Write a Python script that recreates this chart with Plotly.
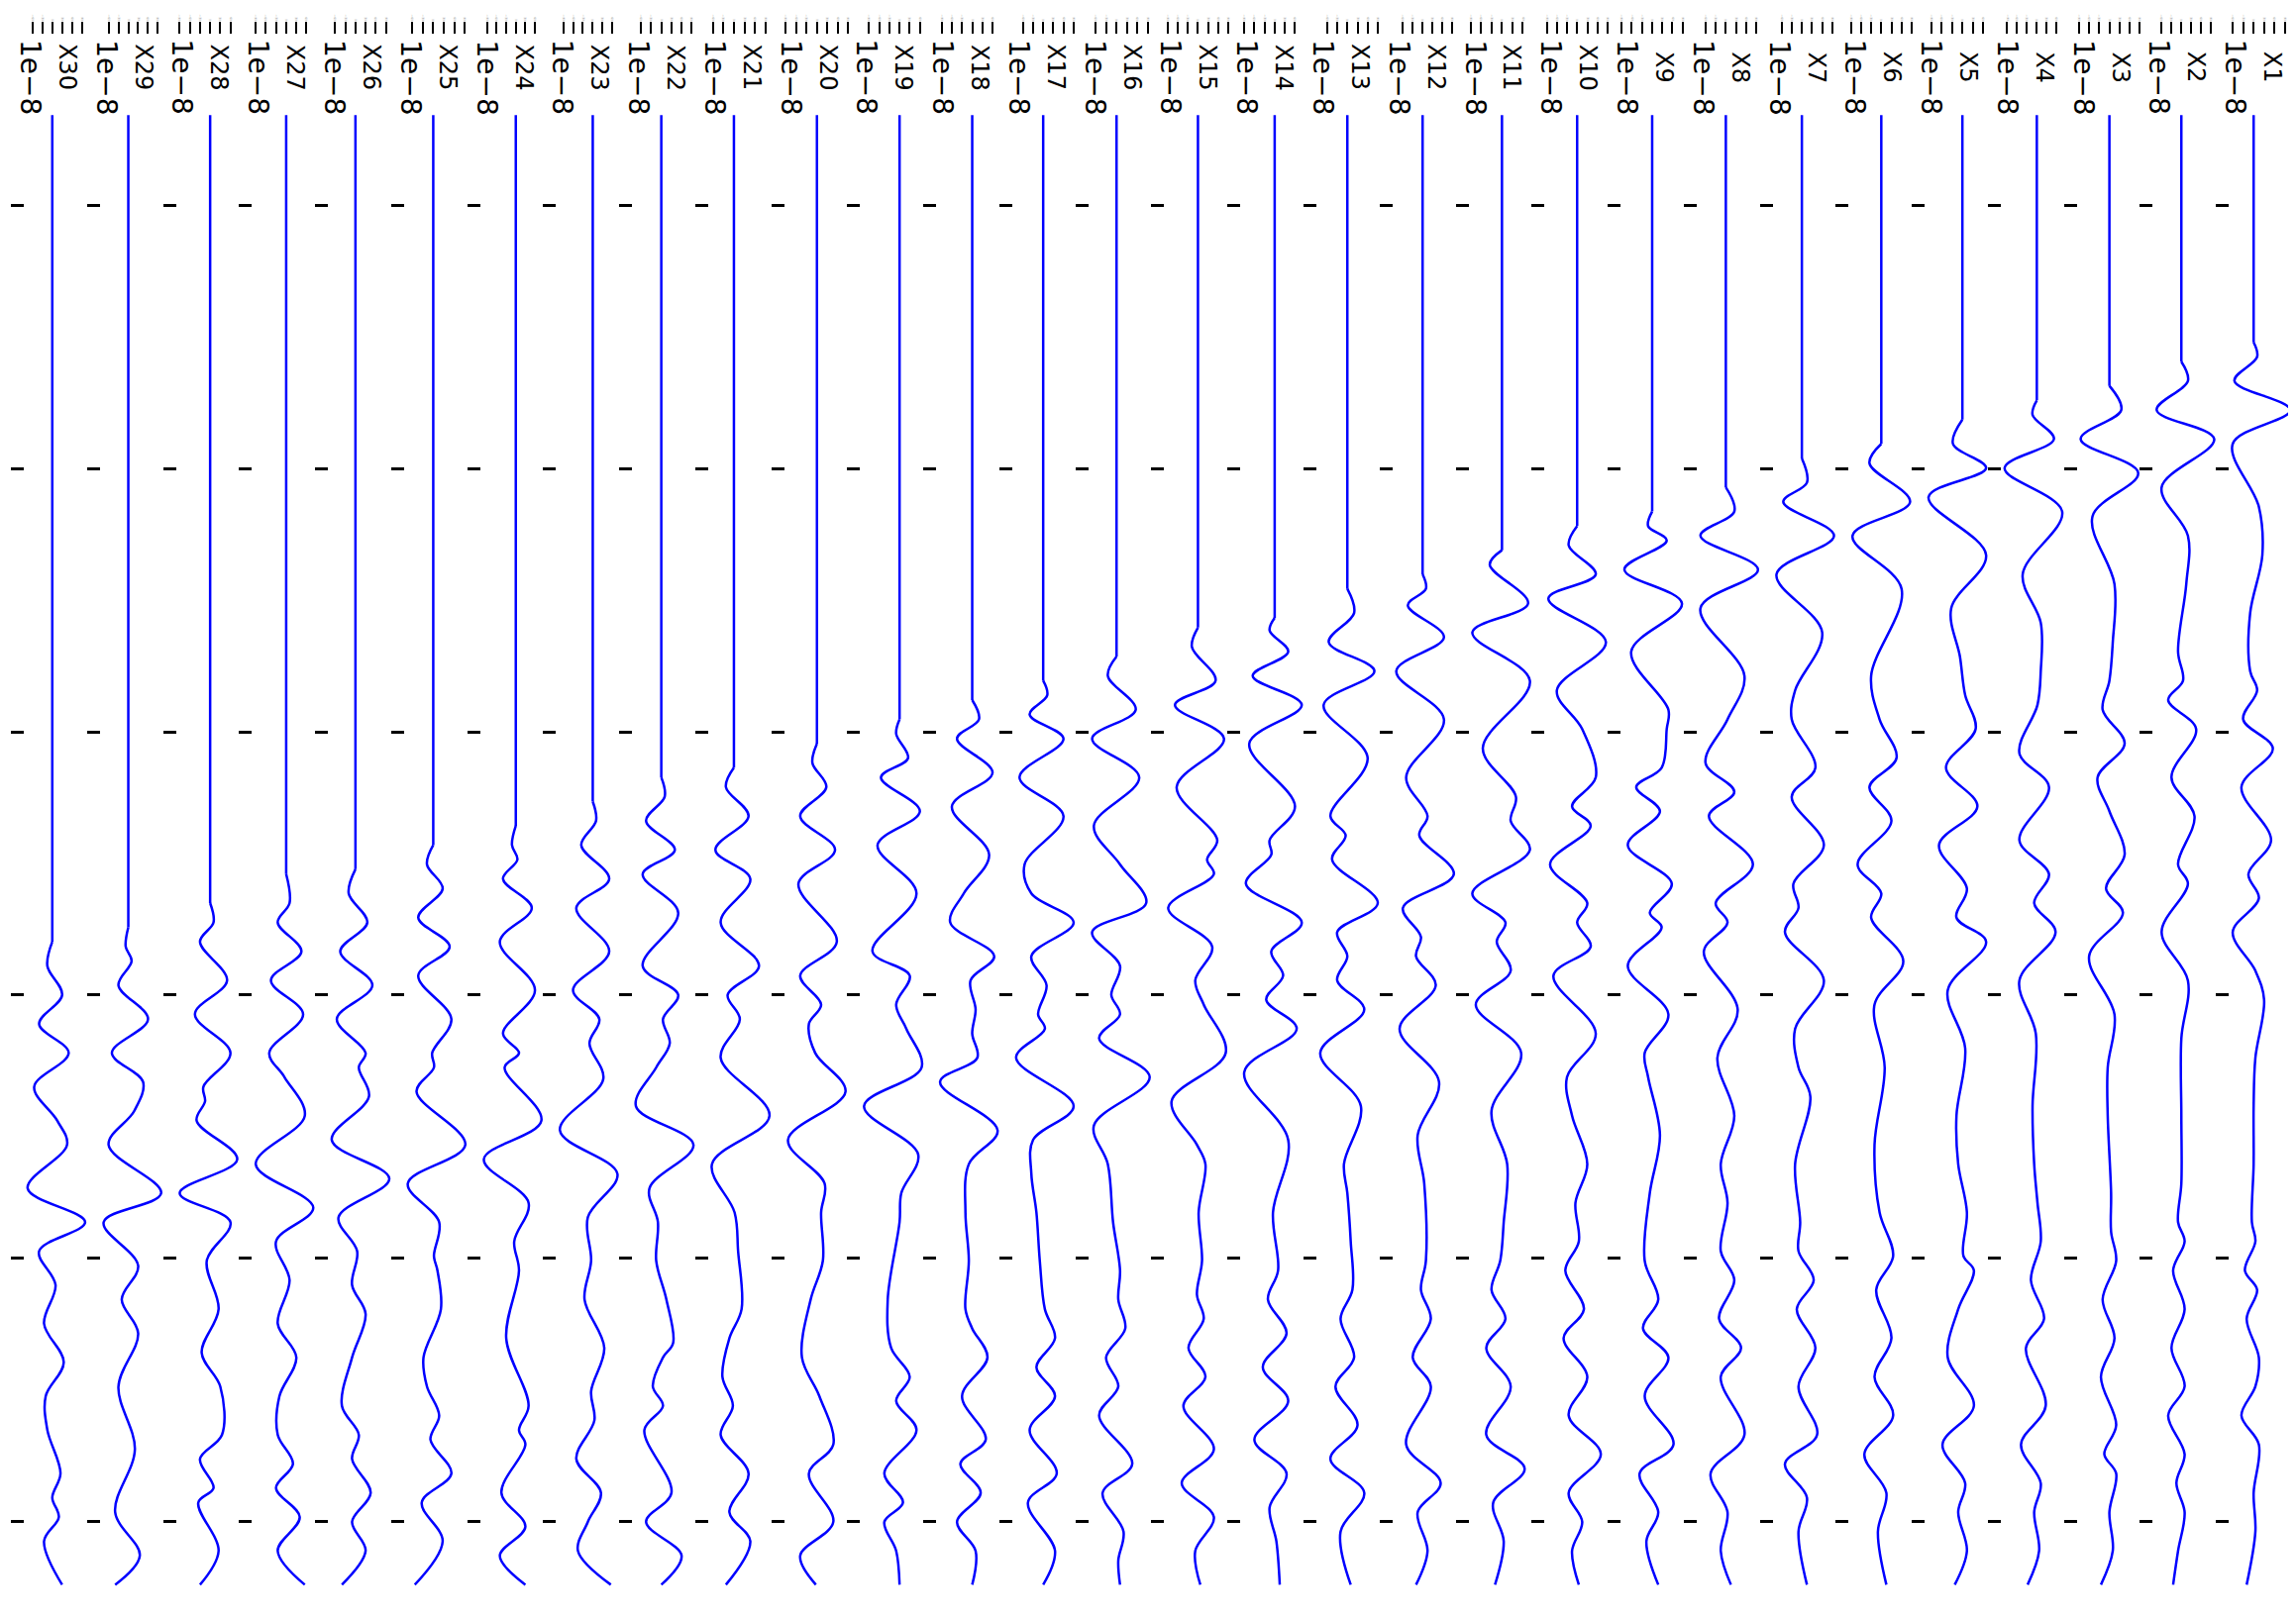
import plotly.graph_objects as go

# ---------------- data ----------------
# Stations, left to right as drawn
stations = ["X30", "X29", "X28", "X27", "X26", "X25", "X24", "X23", "X22", "X21",
            "X20", "X19", "X18", "X17", "X16", "X15", "X14", "X13", "X12", "X11",
            "X10", "X9", "X8", "X7", "X6", "X5", "X4", "X3", "X2", "X1"]

# recording parameters: time = t_start + sample / fs  (seconds)
t_start = 60.35
fs = 2.724
time_ticks = [100, 200, 300, 400, 500, 600]
time_range = [636.5, 35.3]
offset_label = "1e\u22128"

# waveform samples (sample index) and amplitudes (x1e-10); first two samples = quiet part
X30_n = [15, 870, 895, 925, 955, 985, 1020, 1055, 1080, 1125, 1160, 1190, 1225, 1265, 1305, 1340, 1375, 1420, 1445, 1465, 1490, 1535]
X30_a = [0, 0, -15, 30, -40, 50, -55, 15, 45, -75, 100, -40, 10, -25, 35, -20, -15, 25, 0, 20, -25, 30]

X29_n = [15, 855, 875, 890, 915, 950, 985, 1015, 1045, 1080, 1130, 1160, 1205, 1240, 1275, 1330, 1395, 1460, 1505, 1535]
X29_a = [0, 0, -8, 10, -30, 60, -50, 45, 18, -60, 100, -75, 30, -20, 30, -30, 20, -40, 35, -40]

X28_n = [15, 830, 850, 870, 910, 945, 985, 1020, 1035, 1055, 1095, 1130, 1160, 1200, 1250, 1295, 1330, 1380, 1405, 1435, 1450, 1500, 1535]
X28_a = [0, 0, 10, -30, 50, -45, 60, -20, -15, -40, 80, -90, 60, -10, 25, -25, 30, 35, -30, 10, -35, 25, -30]

X27_n = [15, 800, 830, 850, 880, 910, 945, 985, 1010, 1050, 1100, 1145, 1180, 1220, 1265, 1300, 1340, 1380, 1410, 1435, 1465, 1500, 1535]
X27_a = [0, 0, 10, -25, 45, -45, 50, -50, -5, 55, -90, 80, -30, 10, -25, 30, -20, -25, 20, -30, 40, -25, 55]

X26_n = [15, 795, 820, 850, 880, 915, 950, 985, 1000, 1030, 1075, 1115, 1155, 1190, 1225, 1255, 1300, 1350, 1380, 1405, 1440, 1470, 1500, 1535]
X26_a = [0, 0, -20, 35, -45, 50, -55, 30, 10, 40, -70, 100, -50, 5, -10, 30, -10, -40, 10, -10, 45, -10, 30, -40]

X25_n = [15, 770, 790, 815, 845, 875, 905, 950, 985, 1000, 1025, 1080, 1120, 1160, 1195, 1210, 1250, 1300, 1330, 1360, 1385, 1420, 1450, 1490, 1535]
X25_a = [0, 0, -18, 27, -43, 47, -43, 52, -3, 2, -48, 92, -73, 17, 2, 12, 22, -28, -18, 17, -8, 52, -33, 27, -53]

X24_n = [15, 750, 770, 785, 805, 835, 870, 920, 965, 985, 1000, 1055, 1095, 1140, 1180, 1210, 1280, 1350, 1375, 1390, 1440, 1475, 1505, 1535]
X24_a = [0, 0, -12, 5, -40, 50, -50, 60, -40, 10, -35, 80, -100, 40, -5, 10, -30, 40, 10, 30, -45, 30, -50, 30]

X23_n = [15, 725, 745, 770, 805, 835, 880, 920, 950, 975, 1012, 1065, 1110, 1155, 1200, 1240, 1290, 1335, 1365, 1405, 1440, 1470, 1500, 1535]
X23_a = [0, 0, 10, -35, 50, -50, 50, -60, 20, -10, 32, -100, 75, -15, -5, -25, 35, -5, 5, -50, 25, -15, -45, 55]

X22_n = [15, 700, 720, 745, 775, 800, 840, 895, 925, 950, 975, 1000, 1040, 1080, 1125, 1160, 1200, 1240, 1285, 1300, 1330, 1350, 1375, 1440, 1470, 1505, 1535]
X22_a = [0, 0, 10, -45, 40, -55, 50, -55, 50, 5, 25, -15, -75, 95, -35, -10, -15, 15, 35, 5, -25, 5, -50, 30, -45, 60, 0]

X21_n = [15, 690, 710, 740, 775, 805, 850, 895, 925, 950, 990, 1050, 1100, 1150, 1190, 1250, 1280, 1320, 1350, 1380, 1420, 1460, 1490, 1535]
X21_a = [0, 0, -23, 42, -53, 47, -38, 72, -18, 17, -38, 102, -63, 2, 12, 22, -13, -33, -3, -38, 42, -13, 47, -23]

X20_n = [15, 665, 685, 710, 740, 775, 810, 870, 905, 935, 955, 985, 1025, 1075, 1120, 1150, 1200, 1240, 1300, 1340, 1390, 1420, 1470, 1505, 1535]
X20_a = [0, 0, -13, 27, -48, 52, -53, 57, -48, 12, -23, -5, 82, -83, 22, 12, 17, -18, -43, 7, 47, -23, 47, -48, -3]

X19_n = [15, 640, 655, 680, 700, 735, 770, 820, 880, 905, 935, 960, 1000, 1040, 1090, 1130, 1160, 1240, 1290, 1320, 1345, 1375, 1420, 1450, 1470, 1500, 1535]
X19_a = [0, 0, -10, 25, -55, 60, -65, 50, -80, 30, -10, 20, 65, -105, 55, 5, 0, -35, -25, 30, -10, 50, -45, 10, -45, -10, 0]

X18_n = [15, 620, 640, 660, 695, 730, 780, 820, 850, 885, 910, 940, 965, 990, 1015, 1065, 1100, 1150, 1200, 1250, 1270, 1300, 1340, 1385, 1410, 1440, 1470, 1500, 1535]
X18_a = [0, 0, 20, -45, 60, -60, 50, -25, -65, 65, -5, 10, 0, 15, -95, 75, -10, -20, -10, -20, 0, 45, -30, 40, -35, 25, -45, 10, 0]

X17_n = [15, 600, 615, 635, 660, 700, 740, 790, 820, 850, 885, 915, 945, 960, 990, 1040, 1075, 1110, 1150, 1200, 1250, 1280, 1310, 1340, 1375, 1420, 1450, 1500, 1535]
X17_a = [0, 0, 12, -40, 60, -70, 60, -55, -35, 90, -35, 10, -15, 5, -80, 90, -30, -35, -20, -10, 5, 35, -20, 35, -40, 40, -45, 35, 0]

X16_n = [15, 575, 595, 630, 660, 700, 750, 790, 830, 860, 895, 925, 945, 970, 1010, 1060, 1100, 1160, 1210, 1240, 1270, 1300, 1330, 1360, 1410, 1440, 1480, 1510, 1535]
X16_a = [0, 0, -25, 55, -70, 65, -65, 10, 85, -70, 10, -15, 10, -50, 95, -65, -25, -10, 10, 5, 25, -30, 5, -50, 45, -40, 20, 5, 10]

X15_n = [15, 545, 565, 600, 625, 660, 710, 765, 785, 800, 835, 875, 910, 935, 985, 1035, 1080, 1100, 1150, 1200, 1235, 1260, 1290, 1320, 1350, 1395, 1430, 1465, 1500, 1535]
X15_a = [0, 0, -18, 52, -68, 77, -63, 57, 27, 47, -88, 42, -8, 17, 82, -78, -3, 22, 2, 12, -3, 17, -28, 22, -43, 47, -48, 47, -8, 7]

X14_n = [15, 535, 548, 570, 595, 625, 665, 730, 765, 780, 810, 850, 880, 905, 930, 960, 1005, 1075, 1150, 1210, 1240, 1275, 1310, 1345, 1385, 1420, 1455, 1490, 1535]
X14_a = [0, 0, -15, 40, -65, 80, -75, 60, -15, -10, -85, 80, -10, 25, -25, 65, -90, 40, -5, 10, -20, 35, -35, 40, -60, 35, -15, 5, 15]

X13_n = [15, 505, 530, 560, 590, 625, 680, 740, 760, 785, 830, 860, 885, 910, 940, 985, 1040, 1100, 1130, 1180, 1230, 1260, 1300, 1330, 1370, 1405, 1440, 1480, 1535]
X13_a = [0, 0, 20, -55, 80, -70, 60, -50, -5, -45, 90, -30, 0, -30, 50, -80, 40, -10, 0, 10, 15, -20, 20, -35, 30, -50, 50, -20, 10]

X12_n = [15, 490, 505, 522, 555, 590, 640, 700, 740, 760, 800, 835, 865, 885, 915, 960, 1015, 1070, 1120, 1200, 1230, 1260, 1300, 1330, 1390, 1430, 1460, 1500, 1535]
X12_a = [0, 0, 10, -45, 65, -80, 65, -50, 15, -10, 95, -60, -5, -20, 40, -70, 50, -15, 5, 10, -5, 25, -30, 25, -50, 55, -15, 15, -20]

X11_n = [15, 465, 480, 520, 550, 600, 670, 720, 745, 775, 820, 850, 870, 900, 935, 985, 1045, 1100, 1160, 1200, 1230, 1260, 1290, 1330, 1380, 1415, 1450, 1490, 1535]
X11_a = [0, 0, -35, 75, -85, 80, -55, 40, 25, 80, -85, 10, -15, 25, -75, 55, -30, 15, 5, -5, -30, 10, -45, 25, -45, 65, -25, 5, -20]

X10_n = [15, 440, 460, 490, 515, 560, 610, 650, 700, 730, 750, 790, 830, 850, 875, 905, 965, 1010, 1050, 1100, 1140, 1180, 1210, 1250, 1280, 1320, 1360, 1400, 1440, 1470, 1500, 1535]
X10_a = [0, 0, -25, 55, -85, 85, -60, 15, 55, -15, 40, -80, 30, 0, 40, -70, 55, -30, -15, 30, -5, 5, -35, 20, -40, 30, -25, 70, -25, 15, -15, 5]

X9_n = [15, 425, 440, 455, 485, 520, 570, 630, 650, 690, 710, 735, 770, 810, 840, 855, 895, 945, 985, 1010, 1070, 1130, 1200, 1240, 1270, 1300, 1340, 1390, 1420, 1460, 1490, 1535]
X9_a = [0, 0, -12, 43, -82, 88, -62, 48, 43, 28, -47, 23, -72, 58, -7, 28, -72, 48, -22, -12, 23, -7, -22, 18, -27, 48, -22, 63, -37, 18, -17, 18]

X8_n = [15, 400, 425, 450, 485, 525, 595, 640, 685, 715, 740, 790, 830, 850, 880, 940, 990, 1050, 1100, 1140, 1190, 1220, 1260, 1290, 1320, 1380, 1420, 1460, 1500, 1535]
X8_a = [0, 0, 25, -75, 95, -75, 55, 5, -60, 25, -50, 80, -30, 5, -65, 35, -25, 25, -15, 5, -15, 25, -20, 45, -15, 55, -45, 5, -15, 15]

X7_n = [15, 370, 395, 415, 450, 490, 550, 610, 640, 690, 720, 770, 810, 835, 860, 910, 960, 1000, 1030, 1100, 1160, 1190, 1220, 1250, 1290, 1330, 1380, 1410, 1445, 1480, 1535]
X7_a = [0, 0, 15, -55, 95, -75, 60, -20, -30, 40, -30, 65, -25, -10, -50, 65, -20, -10, 25, -20, -5, -10, 35, -15, 40, -10, 45, -50, 15, -10, 15]

X6_n = [15, 355, 375, 415, 450, 505, 595, 640, 680, 710, 745, 790, 820, 845, 890, 935, 1000, 1080, 1150, 1195, 1230, 1280, 1320, 1360, 1400, 1440, 1480, 1535]
X6_a = [0, 0, -35, 85, -85, 60, -30, -5, 45, -35, 30, -70, 0, -30, 65, -20, 10, -20, -5, 35, -15, 30, -20, 35, -50, 15, -10, 15]

X5_n = [15, 330, 355, 380, 410, 470, 525, 575, 615, 650, 690, 730, 770, 815, 845, 870, 920, 980, 1050, 1100, 1150, 1195, 1210, 1250, 1300, 1350, 1390, 1430, 1460, 1500, 1535]
X5_a = [0, 0, -27, 68, -97, 68, -32, -7, 8, 38, -47, 43, -67, 13, -17, 68, -42, 8, -17, -12, 13, 3, 33, -12, -42, 33, -57, 8, -12, 13, -22]

X4_n = [15, 310, 325, 350, 380, 425, 490, 540, 590, 625, 675, 710, 765, 800, 830, 860, 910, 965, 1040, 1100, 1140, 1180, 1220, 1260, 1290, 1350, 1390, 1430, 1460, 1500, 1535]
X4_a = [0, 0, -13, 52, -98, 77, -43, 12, 12, 2, -53, 37, -53, 37, -8, 57, -53, -3, -13, -8, 2, 12, -18, 22, -33, 27, -48, 12, -8, 7, -28]

X3_n = [15, 295, 320, 350, 385, 430, 500, 560, 600, 630, 665, 700, 735, 780, 815, 840, 885, 945, 1000, 1050, 1130, 1170, 1200, 1240, 1280, 1320, 1370, 1400, 1420, 1460, 1500, 1535]
X3_a = [0, 0, 35, -85, 85, -50, 15, 10, 0, -20, 45, -35, 0, 45, -10, 40, -60, 15, -5, -5, 5, 5, 20, -20, 15, -25, 20, -15, 20, 0, 10, -25]

X2_n = [15, 270, 290, 320, 350, 400, 450, 500, 570, 600, 620, 650, 700, 740, 790, 810, 860, 910, 970, 1050, 1120, 1160, 1180, 1210, 1250, 1290, 1330, 1360, 1400, 1430, 1460, 1500, 1535]
X2_a = [0, 0, 20, -75, 100, -60, 20, 15, -10, 5, -40, 45, -30, 40, -10, 20, -60, 20, 0, 0, 0, -10, 10, -25, 10, -30, 10, -40, 10, -15, 10, -10, -25]

X1_n = [15, 250, 265, 290, 320, 355, 420, 470, 530, 590, 610, 640, 670, 710, 765, 800, 825, 860, 900, 930, 990, 1040, 1100, 1160, 1180, 1210, 1230, 1260, 1300, 1330, 1360, 1390, 1440, 1480, 1535]
X1_a = [0, 0, 10, -55, 105, -60, 15, 25, -10, -10, 10, -30, 55, -35, 50, -15, 15, -60, 5, 30, 5, 0, 0, -5, 5, -25, 10, -20, 15, 5, -35, 15, 0, 5, -20]

waveforms = {
    "X30": (X30_n, X30_a), "X29": (X29_n, X29_a), "X28": (X28_n, X28_a),
    "X27": (X27_n, X27_a), "X26": (X26_n, X26_a), "X25": (X25_n, X25_a),
    "X24": (X24_n, X24_a), "X23": (X23_n, X23_a), "X22": (X22_n, X22_a),
    "X21": (X21_n, X21_a), "X20": (X20_n, X20_a), "X19": (X19_n, X19_a),
    "X18": (X18_n, X18_a), "X17": (X17_n, X17_a), "X16": (X16_n, X16_a),
    "X15": (X15_n, X15_a), "X14": (X14_n, X14_a), "X13": (X13_n, X13_a),
    "X12": (X12_n, X12_a), "X11": (X11_n, X11_a), "X10": (X10_n, X10_a),
    "X9": (X9_n, X9_a), "X8": (X8_n, X8_a), "X7": (X7_n, X7_a),
    "X6": (X6_n, X6_a), "X5": (X5_n, X5_a), "X4": (X4_n, X4_a),
    "X3": (X3_n, X3_a), "X2": (X2_n, X2_a), "X1": (X1_n, X1_a),
}

# ---------------- layout ----------------
PAGE_W, PAGE_H = 2318, 1634
BODY = 8                      # default page margin around the plot div
W, H = PAGE_W - BODY, PAGE_H - BODY
panel_left = 23.0 - BODY      # page px of first panel's left edge
panel_step = 76.9
panel_w = 64.0
top_px = 35.0 - BODY
FONT = "DejaVu Sans, Verdana, sans-serif"
LINE = dict(color="#0000ff", width=2.5)


def nice_dtick(span):
    best = None
    for d in [10, 15, 20, 25, 30, 40, 50, 60]:
        cnt = int(span // d) + 1
        score = abs(cnt - 6)
        if best is None or score < best[0]:
            best = (score, d)
    return best[1]


fig = go.Figure()
layout = dict(
    width=W, height=H,
    margin=dict(l=0, r=0, t=0, b=0),
    paper_bgcolor="white", plot_bgcolor="white",
    showlegend=False,
    annotations=[],
    font=dict(family=FONT, color="black"),
)

for i, name in enumerate(stations):
    n_vals, amp = waveforms[name]
    t = [t_start + k / fs for k in n_vals]
    k = i + 1
    xref = "x" if k == 1 else f"x{k}"
    yref = "y" if k == 1 else f"y{k}"
    # quiet part before the first arrival (straight)
    fig.add_trace(go.Scatter(
        x=amp[:2], y=t[:2], mode="lines",
        line=dict(**LINE, shape="linear"),
        xaxis=xref, yaxis=yref, hoverinfo="skip", showlegend=False,
    ))
    # wave train (smooth)
    fig.add_trace(go.Scatter(
        x=amp[1:], y=t[1:], mode="lines",
        line=dict(**LINE, shape="spline", smoothing=1.0),
        xaxis=xref, yaxis=yref, hoverinfo="skip", showlegend=False,
    ))
    lo, hi = min(amp), max(amp)
    span = hi - lo
    rng = [lo - 0.05 * span, hi + 0.05 * span]
    left = panel_left + i * panel_step
    x0 = left / W
    x1 = (left + panel_w) / W
    layout["xaxis" if k == 1 else f"xaxis{k}"] = dict(
        domain=[x0, x1], anchor=yref, side="top", range=rng,
        tickmode="linear", tick0=0, dtick=nice_dtick(rng[1] - rng[0]),
        ticks="outside", ticklen=12, tickwidth=2, tickcolor="black",
        tickfont=dict(size=3, color="#888888", family=FONT), tickangle=90,
        showgrid=False, zeroline=False, showline=False, fixedrange=True,
    )
    layout["yaxis" if k == 1 else f"yaxis{k}"] = dict(
        domain=[0, 1 - top_px / H], anchor=xref, range=time_range,
        tickmode="array", tickvals=time_ticks, showticklabels=False,
        ticks="outside", ticklen=13, tickwidth=2.5, tickcolor="black",
        showgrid=False, zeroline=False, showline=False, fixedrange=True,
    )
    layout["annotations"].append(dict(
        text=offset_label, xref="paper", yref="paper",
        x=(left + 5) / W, y=1 - (78 - BODY) / H, xanchor="center", yanchor="middle",
        textangle=90, showarrow=False,
        font=dict(size=28, family=FONT, color="black"),
    ))
    layout["annotations"].append(dict(
        text=name, xref="paper", yref="paper",
        x=(left + 43) / W, y=1 - (68 - BODY) / H, xanchor="center", yanchor="middle",
        textangle=90, showarrow=False,
        font=dict(size=24, family=FONT, color="black"),
    ))

fig.update_layout(**layout)
fig.write_html("out.html", config={"displayModeBar": False})
